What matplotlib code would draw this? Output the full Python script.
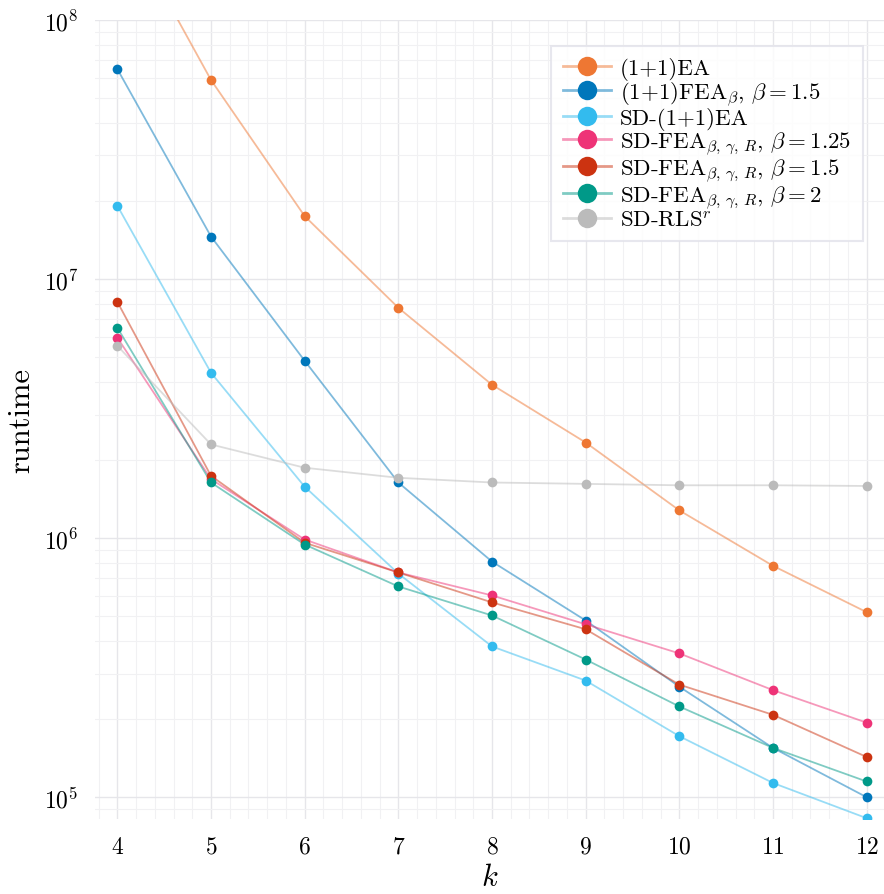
import matplotlib
matplotlib.use("Agg")
import matplotlib.pyplot as plt
from matplotlib.colors import to_rgba
from matplotlib.ticker import LogLocator, MultipleLocator, NullFormatter

plt.rcParams['font.family'] = 'serif'
plt.rcParams['font.serif'] = ['cmr10', 'DejaVu Serif']
plt.rcParams['mathtext.fontset'] = 'cm'
plt.rcParams['axes.formatter.use_mathtext'] = True

k = [4, 5, 6, 7, 8, 9, 10, 11, 12]

ea = [2.66e8, 5.87e7, 1.75e7, 7.75e6, 3.91e6, 2.34e6, 1.28e6, 7.82e5, 5.18e5]
fea = [6.47e7, 1.46e7, 4.84e6, 1.64e6, 8.12e5, 4.81e5, 2.67e5, 1.55e5, 1.00e5]
sd_ea = [1.92e7, 4.35e6, 1.58e6, 7.3e5, 3.82e5, 2.82e5, 1.72e5, 1.135e5, 8.3e4]
sd_fea_125 = [5.94e6, 1.69e6, 9.88e5, 7.37e5, 6.01e5, 4.65e5, 3.59e5, 2.59e5, 1.94e5]
sd_fea_15 = [8.17e6, 1.74e6, 9.6e5, 7.37e5, 5.65e5, 4.45e5, 2.72e5, 2.08e5, 1.43e5]
sd_fea_2 = [6.49e6, 1.64e6, 9.45e5, 6.51e5, 5.03e5, 3.40e5, 2.24e5, 1.55e5, 1.15e5]
sd_rls = [5.53e6, 2.30e6, 1.87e6, 1.71e6, 1.64e6, 1.62e6, 1.60e6, 1.60e6, 1.59e6]

series = [
    (ea, '#EE7733', r'(1+1)EA'),
    (fea, '#0077BB', r'(1+1)FEA$_{\beta}$, $\beta = 1.5$'),
    (sd_ea, '#33BBEE', r'SD-(1+1)EA'),
    (sd_fea_125, '#EE3377', r'SD-FEA$_{\beta,\,\gamma,\,R}$, $\beta = 1.25$'),
    (sd_fea_15, '#CC3311', r'SD-FEA$_{\beta,\,\gamma,\,R}$, $\beta = 1.5$'),
    (sd_fea_2, '#009988', r'SD-FEA$_{\beta,\,\gamma,\,R}$, $\beta = 2$'),
    (sd_rls, '#BBBBBB', r'SD-RLS$^{r}$'),
]

fig = plt.figure(figsize=(8.84, 8.95), dpi=100)
ax = fig.add_axes([0.1075, 0.0838, 0.8925, 0.8927])

handles = []
for ys, c, lab in series:
    ax.plot(k, ys, color=c, alpha=0.5, lw=1.3, zorder=2)
    ax.plot(k, ys, 'o', color=c, ms=7, mec='none', zorder=3, clip_on=True)
    h, = ax.plot([], [], '-o', color=to_rgba(c, 0.5), mfc=c, mec='none',
                 lw=2.0, ms=14, label=lab)
    handles.append(h)

ax.set_yscale('log')
ax.set_xlim(3.762, 12.185)
ax.set_ylim(8.24e4, 1e8)
ax.xaxis.set_major_locator(MultipleLocator(1))
ax.xaxis.set_minor_locator(MultipleLocator(0.2))
ax.yaxis.set_major_locator(LogLocator(base=10, numticks=10))
ax.yaxis.set_minor_locator(LogLocator(base=10, subs=range(2, 10), numticks=20))
ax.yaxis.set_minor_formatter(NullFormatter())

ax.grid(True, which='major', color='#e6e6ea', lw=1.0)
ax.grid(True, which='minor', color='#f1f1f3', lw=0.8)
ax.set_axisbelow(True)
for s in ax.spines.values():
    s.set_visible(False)
ax.tick_params(which='both', length=0, labelsize=17)
ax.tick_params(axis='x', pad=12)
ax.tick_params(axis='y', pad=12)

ax.set_xlabel(r'$k$', fontsize=22, labelpad=4)
ax.set_ylabel('runtime', fontsize=22, labelpad=6)

leg = ax.legend(handles=handles, loc='upper right', bbox_to_anchor=(0.973, 0.968),
                fontsize=16.5, markerscale=1.0, handlelength=2.1, labelspacing=-0.04,
                borderpad=0.5, handletextpad=0.4, frameon=True, fancybox=False,
                borderaxespad=0.0)
leg.get_frame().set_edgecolor('#e2e2ea')
leg.get_frame().set_linewidth(1.5)

fig.savefig('out.png', dpi=100)
